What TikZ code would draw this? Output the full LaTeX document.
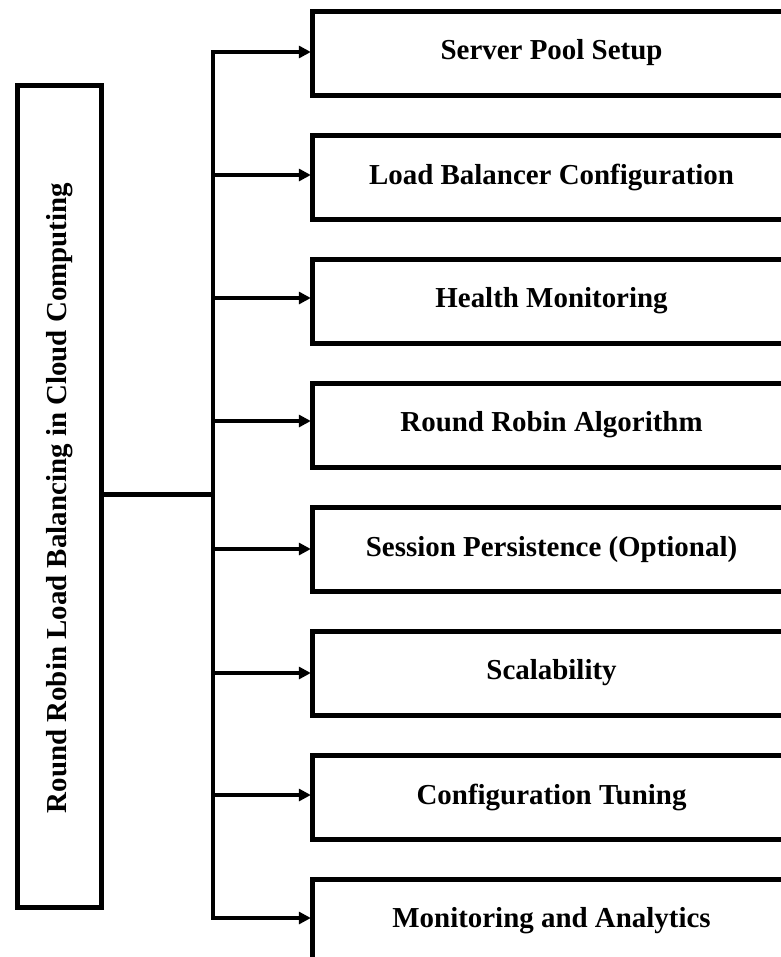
\documentclass[tikz,border=0pt]{standalone}
\usepackage{fontspec}
\setmainfont{Liberation Serif}
\usetikzlibrary{arrows.meta}
\begin{document}
\begin{tikzpicture}[x=0.75pt,y=-0.75pt,
  label font/.style={font=\fontsize{21.7}{26}\selectfont\bfseries},
  stepbox/.style={draw=black,line width=3.8pt,minimum width=479*0.75pt,minimum height=84*0.75pt,
    inner sep=0pt,label font,anchor=north west},
  rootbox/.style={draw=black,line width=3.8pt,minimum width=84.5*0.75pt,minimum height=822*0.75pt,
    inner sep=0pt,anchor=north west},
  link/.style={line width=3.4pt},
  arrowlink/.style={line width=3.4pt,-{Triangle[length=9pt,width=9pt]},shorten >=-1pt}]
\useasboundingbox (0,0) rectangle (781,957);
\clip (0,0) rectangle (781,957);

% root concept, rotated title
\node[rootbox] (root) at (14.5,82.5) {};
\node[rotate=90,label font] (title) at ([yshift=-1.5pt]root.center) {Round Robin Load Balancing in Cloud Computing};

% the eight steps
\node[stepbox] (s1) at (309.5,8.5)   {Server Pool Setup};
\node[stepbox] (s2) at (309.5,132.5) {Load Balancer Configuration};
\node[stepbox] (s3) at (309.5,256.5) {Health Monitoring};
\node[stepbox] (s4) at (309.5,380.5) {Round Robin Algorithm};
\node[stepbox] (s5) at (309.5,504.5) {Session Persistence (Optional)};
\node[stepbox] (s6) at (309.5,628.5) {Scalability};
\node[stepbox] (s7) at (309.5,752.5) {Configuration Tuning};
\node[stepbox] (s8) at (309.5,876.5) {Monitoring and Analytics};

% trunk
\coordinate (hub) at (213,494.5);
\draw[link] (root.east |- hub) -- (hub);
\draw[link] (213,52) -- (213,918);

% branches
\foreach \s/\yy in {s1/52,s2/175,s3/298,s4/421,s5/549,s6/673,s7/795,s8/918}{
  \draw[arrowlink] (211.3,\yy) -- (\s.west |- 0,\yy);
}
\end{tikzpicture}
\end{document}
